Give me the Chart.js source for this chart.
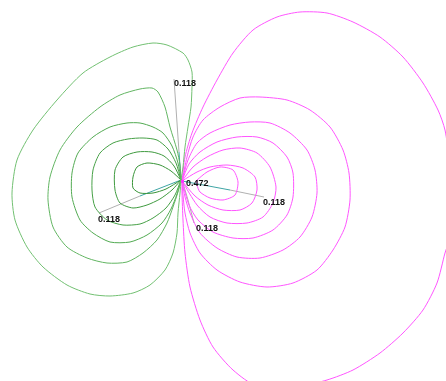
<!DOCTYPE html>
<html>
<head>
<meta charset="utf-8">
<script src="https://cdn.jsdelivr.net/npm/chart.js@4"></script>
<style>
  body { margin: 0; background: #fff; }
  #plot { display: block; }
</style>
</head>
<body>
<canvas id="plot" width="446" height="381"></canvas>
<script>
// Contour lines of the orbital, negative lobe (green), outer to inner
const green1 = [[181,180],[183,167],[185,147],[188,127],[191,107],[192,87],[192,72],[188,60],[183,53],[167,45],[153,43],[133,47],[110,57],[83,73],[57,100],[33,130],[17,160],[12,193],[15,220],[27,247],[43,267],[67,285],[90,294],[110,296],[133,293],[150,285],[165,270],[173,253],[177,233],[178,213],[180,193],[181,180]];
const green2 = [[181,180],[180,165],[177,150],[170,127],[165,107],[158,92],[152,88],[140,89],[120,95],[100,107],[77,127],[60,150],[50,177],[48,200],[53,227],[67,247],[87,258],[107,263],[127,262],[143,253],[157,240],[167,223],[173,207],[178,192],[181,180]];
const green3 = [[181,180],[178,163],[172,146],[163,133],[153,127],[140,123],[127,123],[110,127],[93,137],[78,153],[72,173],[72,197],[80,220],[93,233],[110,242],[130,242],[147,235],[162,223],[171,209],[177,194],[181,180]];
const green4 = [[181,180],[176,163],[168,149],[157,140],[143,138],[128,139],[113,143],[100,153],[93,170],[92,190],[95,207],[107,220],[123,225],[140,224],[153,218],[166,208],[175,195],[181,180]];
const green5 = [[181,180],[174,166],[164,156],[152,152],[137,152],[123,157],[115,170],[115,190],[120,203],[133,208],[147,205],[160,199],[172,190],[181,180]];
const green6 = [[181,180],[171,171],[160,165],[147,163],[137,167],[133,177],[133,188],[140,193],[153,193],[166,189],[181,180]];

// Positive lobe (magenta), outer to inner
const pink1 = [[182,181],[185,157],[192,133],[203,107],[217,80],[233,53],[253,30],[277,17],[300,12],[327,13],[353,22],[380,37],[403,57],[423,83],[438,110],[445,130],[449,160],[450,200],[449,240],[445,253],[437,283],[423,310],[403,333],[380,353],[353,370],[327,380],[300,386],[257,386],[233,370],[213,347],[200,320],[190,287],[185,253],[183,220],[182,193],[182,181]];
const pink2 = [[182,181],[187,157],[193,137],[203,120],[220,107],[240,98],[260,97],[287,100],[310,110],[330,127],[343,150],[349,173],[350,200],[345,227],[333,250],[317,270],[293,283],[267,287],[240,282],[217,270],[200,253],[190,233],[185,213],[183,195],[182,181]];
const pink3 = [[182,181],[188,160],[197,143],[210,133],[230,125],[250,122],[270,123],[290,133],[307,150],[315,170],[317,193],[312,217],[300,237],[283,250],[260,258],[237,257],[217,248],[200,233],[190,213],[185,197],[182,181]];
const pink4 = [[182,181],[189,164],[200,152],[217,142],[237,137],[257,137],[273,143],[287,157],[293,173],[293,197],[287,215],[273,230],[253,238],[233,238],[213,232],[198,220],[189,205],[182,181]];
const pink5 = [[182,181],[193,167],[207,157],[223,150],[240,148],[257,153],[270,167],[276,187],[273,203],[263,217],[247,223],[227,223],[210,217],[197,205],[182,181]];
const pink6 = [[182,181],[197,172],[210,167],[227,165],[243,168],[255,177],[257,190],[252,203],[240,210],[223,210],[208,205],[195,196],[182,181]];
const pink7 = [[197,180],[207,172],[220,167],[233,170],[238,182],[235,195],[223,200],[210,198],[200,192],[197,185],[197,180]];

// Value labels and their leader lines (label end -> colour change -> node)
const labelTexts = ['0.118', '0.472', '0.118', '0.118', '0.118'];
const labelAt = [[174,84], [186,184], [98,220], [263,203], [196,229]];
const leaderFrom = [[174,79], null, [99,213], [264,197], [194,223]];
const leaderMid = [[179,152], null, [140,196], [230,190], [188,200]];
const leaderTo = [[181,180], null, [181,180], [182,181], [183,183]];

const greenColors = ['#72c072', '#62b562', '#52aa52', '#46a046', '#3f9a3f', '#389438'];
const pinkColor = '#ff55ff';
const greyLeader = '#b0b0b0';
const tealLeader = '#3fa5a5';

function contour(points, color) {
  return {
    data: points.map(p => ({ x: p[0], y: p[1] })),
    showLine: true,
    borderColor: color,
    borderWidth: 1,
    pointRadius: 0,
    tension: 0.25,
    fill: false
  };
}

const datasets = [];
[green1, green2, green3, green4, green5, green6].forEach((c, i) => datasets.push(contour(c, greenColors[i])));
[pink1, pink2, pink3, pink4, pink5, pink6, pink7].forEach(c => datasets.push(contour(c, pinkColor)));

// leader lines: grey at the label end, teal towards the node
leaderFrom.forEach((from, i) => {
  if (!from) return;
  const pts = [from, leaderMid[i], leaderTo[i]];
  datasets.push({
    data: pts.map(p => ({ x: p[0], y: p[1] })),
    showLine: true,
    borderWidth: 1,
    borderColor: greyLeader,
    pointRadius: 0,
    segment: {
      borderColor: c => (c.p0DataIndex === 0 ? greyLeader : (i === 4 ? greyLeader : tealLeader))
    }
  });
});

const labelPlugin = {
  id: 'contourLabels',
  afterDatasetsDraw(chart) {
    const { ctx, scales } = chart;
    ctx.save();
    // small magenta mark at the maximum
    ctx.fillStyle = '#ff33ff';
    ctx.fillRect(scales.x.getPixelForValue(181), scales.y.getPixelForValue(180), 3, 3);
    ctx.font = 'bold 9px "Liberation Sans"';
    ctx.fillStyle = '#111';
    ctx.textBaseline = 'middle';
    labelTexts.forEach((t, i) => {
      const x = scales.x.getPixelForValue(labelAt[i][0]);
      const y = scales.y.getPixelForValue(labelAt[i][1]);
      ctx.fillText(t, x, y);
    });
    ctx.restore();
  }
};

new Chart(document.getElementById('plot'), {
  type: 'scatter',
  data: { datasets },
  options: {
    responsive: false,
    animation: false,
    layout: { padding: 0 },
    plugins: { legend: { display: false }, tooltip: { enabled: false } },
    scales: {
      x: { type: 'linear', min: 0, max: 446, display: false },
      y: { type: 'linear', min: 0, max: 381, reverse: true, display: false }
    }
  },
  plugins: [labelPlugin]
});
</script>
</body>
</html>
